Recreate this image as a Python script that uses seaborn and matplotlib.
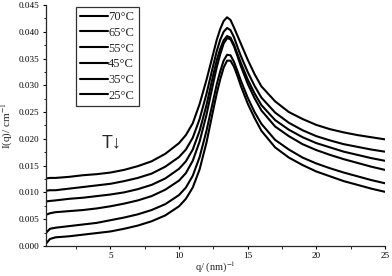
import numpy as np
import pandas as pd
import matplotlib
matplotlib.use("Agg")
import matplotlib.pyplot as plt
from matplotlib.ticker import MultipleLocator, FormatStrFormatter
import seaborn as sns

# ── Data ────────────────────────────────────────────────────────────────────
q = [0.3, 0.6, 1, 2, 3, 4, 5, 6, 7, 8, 9, 10, 10.5, 11, 11.5, 12, 12.5, 12.75, 13,
     13.25, 13.5, 13.75, 14, 14.25, 14.5, 15, 15.5, 16, 17, 18, 19, 20, 21, 22, 23, 24, 25]

temps = ["70°C", "65°C", "55°C", "45°C", "35°C", "25°C"]

i_70 = [0.0126, 0.0127, 0.0127, 0.0129, 0.0132, 0.0134, 0.0137, 0.0142, 0.0149, 0.0158,
        0.0172, 0.0192, 0.0207, 0.0229, 0.0265, 0.0310, 0.0360, 0.0385, 0.0405, 0.0420,
        0.0427, 0.0422, 0.0408, 0.0393, 0.0378, 0.0348, 0.0321, 0.0298, 0.0270, 0.0250,
        0.0237, 0.0226, 0.0218, 0.0212, 0.0207, 0.0203, 0.0199]
i_65 = [0.0103, 0.0104, 0.0104, 0.0107, 0.0110, 0.0113, 0.0116, 0.0121, 0.0127, 0.0135,
        0.0148, 0.0166, 0.0180, 0.0202, 0.0237, 0.0284, 0.0338, 0.0364, 0.0385, 0.0400,
        0.0407, 0.0403, 0.0390, 0.0372, 0.0355, 0.0325, 0.0299, 0.0277, 0.0249, 0.0230,
        0.0216, 0.0205, 0.0197, 0.0190, 0.0185, 0.0180, 0.0176]
i_55 = [0.0083, 0.0084, 0.0085, 0.0088, 0.0090, 0.0093, 0.0096, 0.0100, 0.0106, 0.0114,
        0.0126, 0.0144, 0.0158, 0.0180, 0.0215, 0.0263, 0.0320, 0.0347, 0.0368, 0.0384,
        0.0392, 0.0389, 0.0376, 0.0359, 0.0342, 0.0311, 0.0285, 0.0263, 0.0235, 0.0217,
        0.0203, 0.0192, 0.0184, 0.0176, 0.0170, 0.0164, 0.0159]
i_45 = [0.0058, 0.0061, 0.0063, 0.0065, 0.0067, 0.0070, 0.0074, 0.0079, 0.0085, 0.0093,
        0.0105, 0.0122, 0.0136, 0.0159, 0.0195, 0.0245, 0.0305, 0.0334, 0.0358, 0.0378,
        0.0388, 0.0386, 0.0373, 0.0355, 0.0336, 0.0303, 0.0276, 0.0253, 0.0223, 0.0205,
        0.0190, 0.0179, 0.0170, 0.0162, 0.0155, 0.0148, 0.0142]
i_35 = [0.0024, 0.0032, 0.0034, 0.0037, 0.0040, 0.0043, 0.0048, 0.0053, 0.0059, 0.0067,
        0.0078, 0.0095, 0.0109, 0.0131, 0.0166, 0.0215, 0.0273, 0.0302, 0.0326, 0.0346,
        0.0357, 0.0356, 0.0344, 0.0327, 0.0309, 0.0277, 0.0250, 0.0228, 0.0198, 0.0180,
        0.0165, 0.0154, 0.0145, 0.0137, 0.0130, 0.0123, 0.0117]
i_25 = [0.0004, 0.0013, 0.0016, 0.0018, 0.0021, 0.0024, 0.0027, 0.0032, 0.0038, 0.0046,
        0.0057, 0.0074, 0.0088, 0.0109, 0.0143, 0.0193, 0.0255, 0.0285, 0.0311, 0.0333,
        0.0346, 0.0346, 0.0335, 0.0318, 0.0299, 0.0266, 0.0239, 0.0215, 0.0184, 0.0165,
        0.0151, 0.0139, 0.0130, 0.0121, 0.0114, 0.0107, 0.0101]

series = [i_70, i_65, i_55, i_45, i_35, i_25]

df = pd.concat(
    [pd.DataFrame({"q": q, "I": vals, "T": t}) for t, vals in zip(temps, series)],
    ignore_index=True,
)

# ── Style ───────────────────────────────────────────────────────────────────
sns.set_style("ticks")
plt.rcParams["font.family"] = ["Liberation Serif", "DejaVu Serif"]
plt.rcParams["mathtext.fontset"] = "stix"
plt.rcParams["axes.linewidth"] = 0.9

fig = plt.figure(figsize=(3.92, 2.76), dpi=100)
ax = fig.add_axes([0.117, 0.109, 0.865, 0.873])

sns.lineplot(
    data=df, x="q", y="I", hue="T", hue_order=temps,
    palette=["black"] * len(temps), linewidth=1.5, ax=ax, legend=True,
)

ax.set_xlim(0.3, 25)
ax.set_ylim(0, 0.045)
ax.xaxis.set_major_locator(MultipleLocator(5))
ax.xaxis.set_minor_locator(MultipleLocator(2.5))
ax.yaxis.set_major_locator(MultipleLocator(0.005))
ax.yaxis.set_minor_locator(MultipleLocator(0.0025))
ax.yaxis.set_major_formatter(FormatStrFormatter("%.3f"))
ax.tick_params(which="major", direction="out", length=2.5, width=0.8,
               labelsize=6.6, pad=2, colors="black")
ax.tick_params(which="minor", direction="out", length=1.8, width=0.7)
sns.despine(ax=ax)

ax.set_xlabel("q/ (nm)$^{-1}$", fontsize=7.5, labelpad=0)
ax.set_ylabel("I(q)/ cm$^{-1}$", fontsize=8, labelpad=3)

ax.text(5.1, 0.0193, "T\u2193", fontsize=13,
        family=["Liberation Sans", "DejaVu Sans"], ha="center", va="center")

leg = ax.legend(
    loc="upper left", bbox_to_anchor=(0.088, 0.993), frameon=True,
    fancybox=False, fontsize=9, handlelength=2.2, handletextpad=0.05,
    labelspacing=0.3, borderpad=0.35, borderaxespad=0, title=None,
)
leg.get_frame().set_edgecolor("black")
leg.get_frame().set_linewidth(0.9)
for line in leg.get_lines():
    line.set_linewidth(1.5)

fig.savefig("out.png", dpi=100)
plt.close(fig)
